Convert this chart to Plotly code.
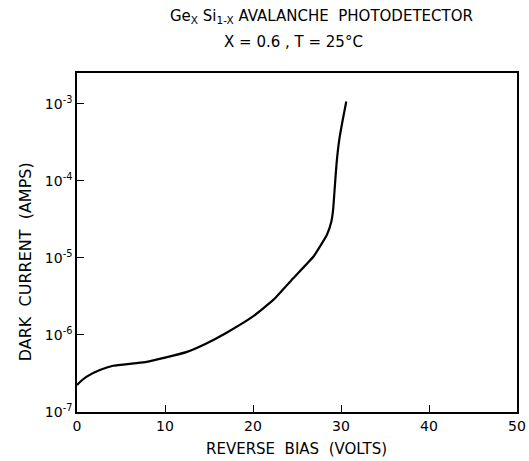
import plotly.graph_objects as go

bias_volts = [0.0, 0.34, 1.1, 2.6, 4.1, 6.4, 7.9, 10.0, 12.5, 14.7, 17.0, 20.0, 22.3, 24.6, 26.9, 28.4, 28.9, 29.1, 29.3, 29.5, 29.8, 30.2, 30.6]
dark_current = [2.24e-7, 2.45e-7, 2.88e-7, 3.5e-7, 3.98e-7, 4.27e-7, 4.47e-7, 5.07e-7, 6.03e-7, 7.76e-7, 1.07e-6, 1.74e-6, 2.85e-6, 5.5e-6, 1.05e-5, 2.0e-5, 2.95e-5, 4.17e-5, 8.5e-5, 1.7e-4, 3.4e-4, 6.2e-4, 1.07e-3]

y_tick_vals = [1e-7, 1e-6, 1e-5, 1e-4, 1e-3]
y_tick_text = ["10<sup>-7</sup>", "10<sup>-6</sup>", "10<sup>-5</sup>", "10<sup>-4</sup>", "10<sup>-3</sup>"]
x_tick_vals = [0, 10, 20, 30, 40, 50]

font_family = "DejaVu Sans"

fig = go.Figure()
fig.add_trace(go.Scatter(
    x=bias_volts, y=dark_current, mode="lines",
    line=dict(color="black", width=2.2, shape="spline", smoothing=0.4),
    showlegend=False, hoverinfo="skip",
))

fig.update_layout(
    width=529, height=461,
    margin=dict(l=77, r=12, t=73, b=49, autoexpand=False),
    paper_bgcolor="white", plot_bgcolor="white",
    font=dict(family=font_family, color="black", size=13),
    showlegend=False,
)
fig.update_xaxes(
    range=[0, 50], tickvals=x_tick_vals, ticks="inside", ticklen=7,
    tickcolor="black", tickwidth=1.3, showline=True, linecolor="black", linewidth=1.5,
    mirror=True, showgrid=False, zeroline=False, automargin=False,
    tickfont=dict(size=14, family=font_family),
)
fig.update_yaxes(
    type="log", range=[-7, -2.6], tickvals=y_tick_vals, ticktext=y_tick_text,
    ticks="inside", ticklen=7, tickcolor="black", tickwidth=1.3, showline=True,
    linecolor="black", linewidth=1.5, mirror=True, showgrid=False,
    zeroline=False, automargin=False, tickfont=dict(size=14, family=font_family),
)

fig.add_annotation(
    text="Ge<sub>X</sub> Si<sub>1-X</sub> AVALANCHE  PHOTODETECTOR",
    xref="paper", yref="paper", x=0.555, y=1.0, yshift=57, showarrow=False,
    font=dict(size=15, family=font_family), xanchor="center", yanchor="middle",
)
fig.add_annotation(
    text="X = 0.6 , T = 25°C",
    xref="paper", yref="paper", x=0.493, y=1.0, yshift=31, showarrow=False,
    font=dict(size=15, family=font_family), xanchor="center", yanchor="middle",
)
fig.add_annotation(
    text="REVERSE  BIAS  (VOLTS)",
    xref="paper", yref="paper", x=0.498, y=0.0, yshift=-37, showarrow=False,
    font=dict(size=15, family=font_family), xanchor="center", yanchor="middle",
)
fig.add_annotation(
    text="DARK  CURRENT  (AMPS)",
    xref="paper", yref="paper", x=-0.118, y=0.442, textangle=-90, showarrow=False,
    font=dict(size=16, family=font_family), xanchor="center", yanchor="middle",
)

fig.write_html(
    "out.html",
    config={"displayModeBar": False},
    post_script="document.body.style.margin='0';document.body.style.overflow='hidden';",
)
